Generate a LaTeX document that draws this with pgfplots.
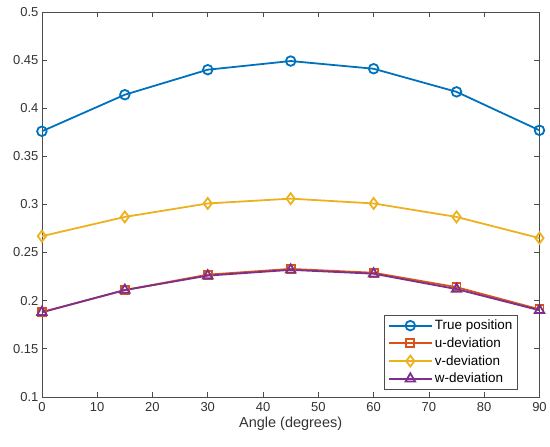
\documentclass[border=0pt]{standalone}
\usepackage{pgfplots}
\pgfplotsset{compat=1.18}
\usepackage{fontspec}
\setmainfont{Liberation Sans}
\definecolor{mblue}{rgb}{0,0.447,0.741}
\definecolor{morange}{rgb}{0.85,0.325,0.098}
\definecolor{myellow}{rgb}{0.929,0.694,0.125}
\definecolor{mpurple}{rgb}{0.494,0.184,0.556}
\definecolor{axgray}{rgb}{0.3,0.3,0.3}
\definecolor{txgray}{rgb}{0.2,0.2,0.2}
\begin{document}
\begin{tikzpicture}
\begin{axis}[
  name=ax,
  scale only axis,
  width=499bp, height=386bp,
  xmin=0, xmax=90, ymin=0.1, ymax=0.5,
  xtick={0,10,...,90},
  ytick={0.1,0.15,0.2,0.25,0.3,0.35,0.4,0.45,0.5},
  yticklabels={0.1,0.15,0.2,0.25,0.3,0.35,0.4,0.45,0.5},
  tick align=inside,
  major tick length=5bp,
  axis line style={axgray, line width=0.6bp},
  every tick/.style={axgray, line width=0.6bp},
  tick label style={font=\fontsize{13bp}{15bp}\selectfont, text=txgray},
  xticklabel style={yshift=-2bp},
  /pgf/number format/assume math mode=true,
  xlabel={Angle (degrees)},
  xlabel style={font=\fontsize{14.5bp}{16bp}\selectfont, text=txgray, yshift=1bp},
  legend style={at={(0.956,0.02)}, anchor=south east, draw=axgray, line width=0.6bp,
    font=\fontsize{13.5bp}{15bp}\selectfont, row sep=2.5bp, inner xsep=3bp, inner ysep=2.5bp},
  legend cell align=left,
  legend image code/.code={
    \draw[mark repeat=2,mark phase=2] plot coordinates {(0cm,0cm) (0.77cm,0cm) (1.54cm,0cm)};
  },
]
\addplot[mblue, line width=1.8bp, mark=o, mark size=4.8bp, mark options={solid, line width=1.8bp, fill=none}] coordinates {(0,0.376) (15,0.414) (30,0.440) (45,0.449) (60,0.441) (75,0.417) (90,0.377)};
\addlegendentry{True position}
\addplot[morange, line width=1.8bp, mark=square, mark size=4bp, mark options={solid, line width=1.8bp, fill=none}] coordinates {(0,0.188) (15,0.211) (30,0.227) (45,0.233) (60,0.229) (75,0.214) (90,0.191)};
\addlegendentry{u-deviation}
\addplot[myellow, line width=1.8bp, mark=diamond, mark size=5.5bp, mark options={solid, line width=1.8bp, fill=none}] coordinates {(0,0.267) (15,0.287) (30,0.301) (45,0.306) (60,0.301) (75,0.287) (90,0.265)};
\addlegendentry{v-deviation}
\addplot[mpurple, line width=1.8bp, mark=triangle, mark size=5.5bp, mark options={solid, line width=1.8bp, fill=none}] coordinates {(0,0.188) (15,0.211) (30,0.226) (45,0.232) (60,0.228) (75,0.212) (90,0.190)};
\addlegendentry{w-deviation}
\end{axis}
\path[use as bounding box] ([shift={(-42bp,-50bp)}]ax.south west) rectangle ([shift={(9bp,12bp)}]ax.north east);
\end{tikzpicture}
\end{document}
